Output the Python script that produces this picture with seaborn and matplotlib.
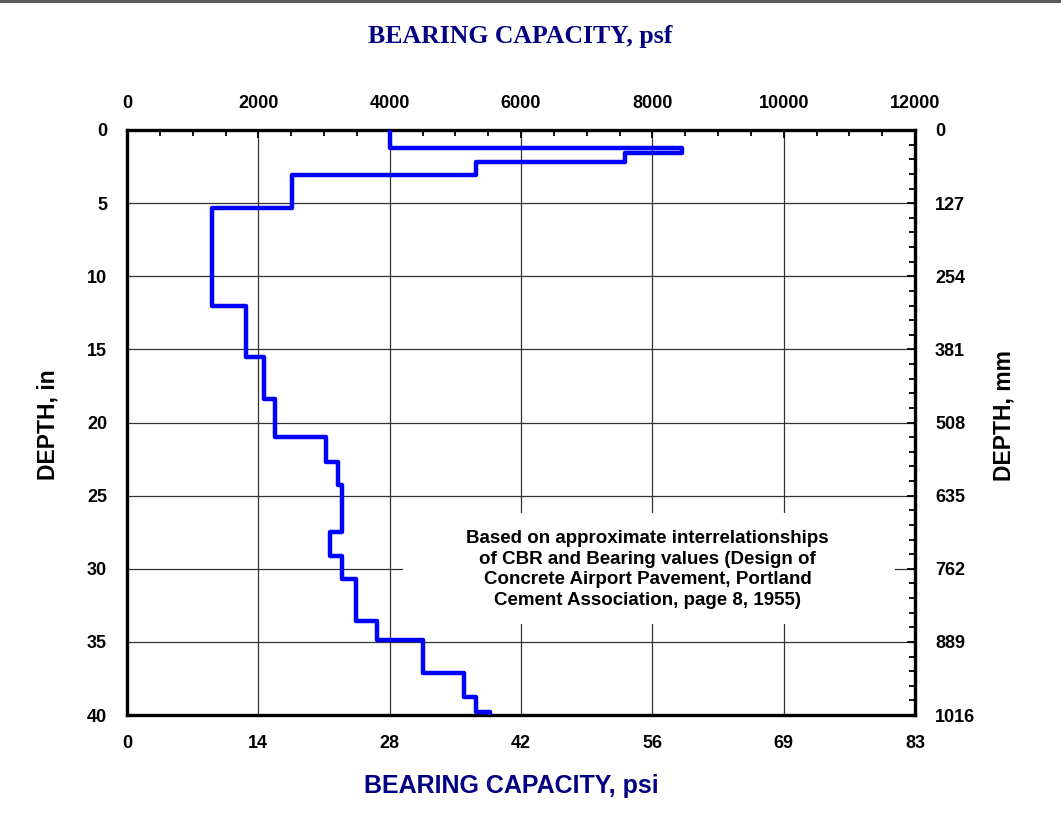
import numpy as np
import pandas as pd
import matplotlib
matplotlib.use('Agg')
import matplotlib.pyplot as plt
from matplotlib.ticker import MultipleLocator, FixedLocator
from matplotlib.patches import Rectangle
import seaborn as sns

# ── data (psf per layer, layer tops in inches)
layer_tops_in = [0, 1.2, 1.6, 2.2, 3.1, 5.3, 12.0, 15.5, 18.4, 21.0,
                 22.7, 24.3, 27.5, 29.1, 30.7, 33.6, 34.9, 37.1, 38.8, 39.8]
layer_bottom_in = 40
bearing_psf = [4000, 8450, 7580, 5320, 2520, 1300, 1810, 2080, 2260, 3030,
               3210, 3270, 3090, 3270, 3490, 3810, 4500, 5130, 5320, 5530]

psf_ticks = [0, 2000, 4000, 6000, 8000, 10000, 12000]
psi_labels = ['0', '14', '28', '42', '56', '69', '83']
depth_ticks = [0, 5, 10, 15, 20, 25, 30, 35, 40]
mm_labels = ['0', '127', '254', '381', '508', '635', '762', '889', '1016']

note = ('Based on approximate interrelationships\n'
        'of CBR and Bearing values (Design of\n'
        'Concrete Airport Pavement, Portland\n'
        'Cement Association, page 8, 1955)')

NAVY = '#000080'

sns.set_theme(style='white')
plt.rcParams['font.family'] = ['Liberation Sans', 'DejaVu Sans']
plt.rcParams['font.weight'] = 'bold'
plt.rcParams['text.color'] = 'black'
plt.rcParams['xtick.color'] = 'black'
plt.rcParams['ytick.color'] = 'black'

# step profile: each layer is a vertical segment, joined by horizontal jumps
bounds = layer_tops_in + [layer_bottom_in]
profile = pd.DataFrame({
    'psf': np.repeat(bearing_psf, 2),
    'depth': np.ravel(np.column_stack([bounds[:-1], bounds[1:]])),
})

fig = plt.figure(figsize=(10.61, 8.25), dpi=100)
ax = fig.add_axes([127 / 1061, 1 - 715 / 825, 788 / 1061, 585 / 825])

sns.lineplot(data=profile, x='psf', y='depth', sort=False, estimator=None,
             color='#0000ff', linewidth=3.2, ax=ax, zorder=3)

ax.set_xlim(0, 12000)
ax.set_ylim(40, 0)
ax.set_xlabel('')
ax.set_ylabel('')

# grid & mask behind the note
ax.set_axisbelow(True)
ax.grid(True, which='major', color='#333333', linewidth=0.9)
ax.add_patch(Rectangle((4200, 26.2), 7500, 7.6, facecolor='white',
                       edgecolor='none', zorder=1))
ax.text(7930, 30.05, note, ha='center', va='center', fontsize=13.5,
        fontweight='bold', color='black', linespacing=1.3, zorder=4)

for sp in ax.spines.values():
    sp.set_linewidth(2.4)
    sp.set_color('black')

# bottom psi / left inches
ax.xaxis.set_major_locator(FixedLocator(psf_ticks))
ax.set_xticklabels(psi_labels)
ax.xaxis.set_minor_locator(MultipleLocator(500))
ax.yaxis.set_major_locator(FixedLocator(depth_ticks))
ax.yaxis.set_minor_locator(MultipleLocator(1))
ax.tick_params(which='both', direction='in', top=True, right=True,
               color='black', labelsize=13)
ax.tick_params(axis='x', pad=14.5)
ax.tick_params(axis='y', pad=14.4)
ax.tick_params(which='major', length=6, width=1.3)
ax.tick_params(which='minor', length=4, width=1.3)
for lab in ax.get_xticklabels() + ax.get_yticklabels():
    lab.set_fontweight('bold')

# top psf
top = ax.secondary_xaxis('top')
top.xaxis.set_major_locator(FixedLocator(psf_ticks))
top.set_xticklabels([str(v) for v in psf_ticks])
top.tick_params(direction='in', length=0, labelsize=13, pad=13)
top.spines['top'].set_visible(False)
for lab in top.get_xticklabels():
    lab.set_fontweight('bold')

# right mm
right = ax.secondary_yaxis('right')
right.yaxis.set_major_locator(FixedLocator(depth_ticks))
right.set_yticklabels(mm_labels)
right.tick_params(direction='in', length=0, labelsize=13, pad=14.4)
right.spines['right'].set_visible(False)
for lab in right.get_yticklabels():
    lab.set_fontweight('bold')

# axis titles
fig.text(520 / 1061, 1 - 37 / 825, 'BEARING CAPACITY, psf', ha='center',
         va='center', fontsize=18.5, fontweight='bold', color=NAVY,
         family=['Liberation Serif', 'DejaVu Serif'])
fig.text(511 / 1061, 1 - 786 / 825, 'BEARING CAPACITY, psi', ha='center',
         va='center', fontsize=18, fontweight='bold', color=NAVY)
fig.text(48 / 1061, 1 - 425 / 825, 'DEPTH, in', ha='center', va='center',
         rotation=90, fontsize=16.5, fontweight='bold', color='black')
fig.text(1004 / 1061, 1 - 416 / 825, 'DEPTH, mm', ha='center', va='center',
         rotation=90, fontsize=16.5, fontweight='bold', color='black')

# thin frame strip at the very top
fig.patches.append(Rectangle((0, 1 - 3 / 825), 1, 3 / 825, transform=fig.transFigure,
                             facecolor='#5a5a5a', edgecolor='none'))

fig.savefig('out.png', dpi=100)
plt.close(fig)
